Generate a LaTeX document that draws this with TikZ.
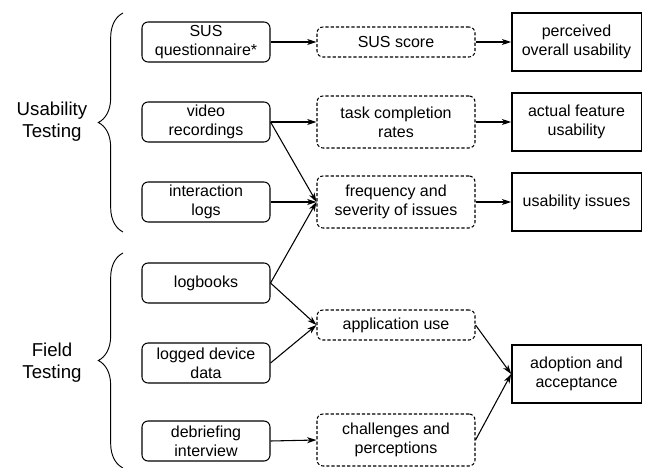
\documentclass[tikz,border=0pt]{standalone}
\usepackage{fontspec}
\setmainfont{Liberation Sans}
\usetikzlibrary{arrows.meta,decorations.pathreplacing}
\begin{document}
\begin{tikzpicture}[x=0.75pt,y=-0.75pt,
  font=\fontsize{12}{14.25}\selectfont,
  >={Stealth[length=7pt,width=4.5pt,inset=2pt]},
  src/.style={draw,rounded corners=4.5pt,line width=0.8pt,align=center,
    minimum width=96pt,minimum height=30pt,inner sep=1pt},
  mid/.style={draw,dash pattern=on 2.4pt off 1.5pt,rounded corners=4.5pt,
    line width=0.8pt,align=center,minimum width=118.5pt,minimum height=22.5pt,inner sep=1pt},
  tall/.style={minimum height=39pt},
  res/.style={draw,line width=1pt,align=center,
    minimum width=97pt,minimum height=43.5pt,inner sep=1pt},
  grp/.style={align=center,font=\fontsize{14}{16.5}\selectfont},
  brc/.style={decorate,decoration={brace,amplitude=18.5pt},line width=0.7pt}]
  \useasboundingbox (0,0) rectangle (645,467);

  % groups
  \node[grp] (ut) at (52,122) {Usability\\Testing};
  \node[grp] (ft) at (52,363) {Field\\Testing};
  \draw[brc] (123,232) -- (123,13);
  \draw[brc] (123,468) -- (123,253);

  % data sources
  \node[src] (sus)  at (206,42)  {SUS\\questionnaire*};
  \node[src] (vid)  at (206,122) {video\\recordings};
  \node[src] (log)  at (206,202) {interaction\\logs};
  \node[src] (book) at (206,283) {logbooks};
  \node[src] (dev)  at (206,363) {logged device\\data};
  \node[src] (deb)  at (206,441) {debriefing\\interview};

  % measures
  \node[mid] (score) at (396,42)  {SUS score};
  \node[mid,tall] (task)  at (396,122) {task completion\\rates};
  \node[mid,tall] (freq)  at (396,202) {frequency and\\severity of issues};
  \node[mid] (use)   at (396,325) {application use};
  \node[mid,tall] (chal)  at (396,440) {challenges and\\perceptions};

  % outcomes
  \node[res] (perc)  at (576.5,42)  {perceived\\overall usability};
  \node[res] (feat)  at (576.5,122) {actual feature\\usability};
  \node[res] (iss)   at (576.5,202) {usability issues};
  \node[res] (adopt) at (576.5,374) {adoption and\\acceptance};

  \draw[->,line width=0.8pt] (sus.east) -- (score.west);
  \draw[->,line width=0.8pt] (vid.east) -- (task.west);
  \draw[->,line width=0.8pt] (vid.east) -- (freq.west);
  \draw[->,line width=0.8pt] (log.east) -- (freq.west);
  \draw[->,line width=0.8pt] (book.east) -- (freq.west);
  \draw[->,line width=0.8pt] (book.east) -- (use.west);
  \draw[->,line width=0.8pt] (dev.east) -- (use.west);
  \draw[->,line width=0.8pt] (deb.east) -- (chal.west);

  \draw[->,line width=0.8pt] (score.east) -- (perc.west);
  \draw[->,line width=0.8pt] (task.east) -- (feat.west);
  \draw[->,line width=0.8pt] (freq.east) -- (iss.west);
  \draw[->,line width=0.8pt] (use.east) -- (adopt.west);
  \draw[->,line width=0.8pt] (chal.east) -- (adopt.west);
\end{tikzpicture}
\end{document}
